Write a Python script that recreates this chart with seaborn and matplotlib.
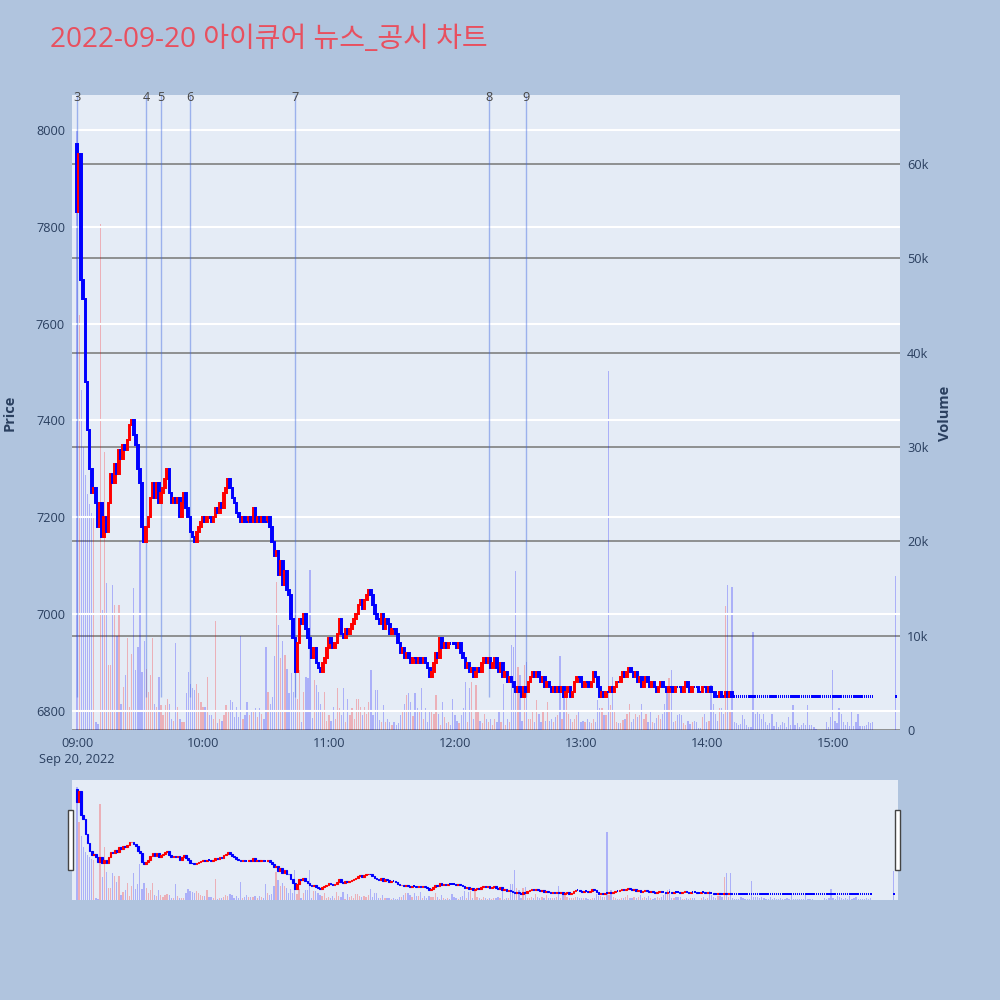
import numpy as np
import pandas as pd
import matplotlib
matplotlib.use('Agg')
import matplotlib.pyplot as plt
from matplotlib.patches import Rectangle
import seaborn as sns

# 제목과 데이터 (1분봉, 09:00 부터)
title = '2022-09-20 아이큐어 뉴스_공시 차트'
first_open = 7970

closes = [
    7830, 7950, 7690, 7650, 7480, 7380, 7300, 7250, 7260, 7230,
    7180, 7230, 7160, 7200, 7170, 7230, 7290, 7270, 7310, 7290,
    7340, 7320, 7350, 7340, 7360, 7390, 7400, 7370, 7350, 7300,
    7270, 7180, 7150, 7180, 7200, 7240, 7270, 7240, 7270, 7230,
    7250, 7260, 7280, 7300, 7250, 7230, 7240, 7230, 7240, 7200,
    7230, 7250, 7220, 7200, 7170, 7160, 7150, 7170, 7180, 7190,
    7200, 7190, 7200, 7200, 7190, 7200, 7220, 7210, 7230, 7220,
    7250, 7260, 7280, 7260, 7240, 7230, 7210, 7200, 7190, 7200,
    7190, 7190, 7200, 7190, 7220, 7190, 7200, 7190, 7200, 7190,
    7190, 7200, 7180, 7150, 7120, 7130, 7080, 7110, 7060, 7090,
    7050, 7040, 6990, 6950, 6880, 6940, 6990, 6980, 7000, 6970,
    6950, 6930, 6910, 6930, 6900, 6890, 6880, 6900, 6910, 6930,
    6950, 6940, 6930, 6940, 6960, 6990, 6960, 6950, 6970, 6960,
    6970, 6980, 6990, 7000, 7020, 7030, 7010, 7030, 7040, 7050,
    7040, 7020, 7000, 6990, 6980, 7000, 6970, 6990, 6980, 6960,
    6970, 6970, 6960, 6940, 6920, 6930, 6910, 6920, 6910, 6900,
    6910, 6910, 6900, 6910, 6900, 6910, 6900, 6890, 6870, 6880,
    6900, 6920, 6910, 6950, 6930, 6940, 6930, 6940, 6940, 6940,
    6940, 6930, 6940, 6920, 6910, 6890, 6900, 6880, 6890, 6870,
    6880, 6890, 6880, 6900, 6910, 6900, 6910, 6890, 6900, 6910,
    6890, 6880, 6900, 6870, 6880, 6860, 6870, 6860, 6850, 6840,
    6850, 6840, 6830, 6850, 6840, 6860, 6870, 6880, 6870, 6880,
    6870, 6860, 6870, 6850, 6860, 6850, 6840, 6850, 6840, 6850,
    6840, 6850, 6830, 6840, 6850, 6830, 6840, 6860, 6870, 6870,
    6860, 6850, 6860, 6860, 6850, 6860, 6880, 6870, 6850, 6830,
    6840, 6830, 6840, 6840, 6850, 6840, 6850, 6860, 6860, 6870,
    6880, 6870, 6880, 6890, 6880, 6870, 6880, 6860, 6870, 6850,
    6860, 6870, 6860, 6850, 6860, 6850, 6840, 6850, 6860, 6850,
    6850, 6840, 6850, 6850, 6840, 6850, 6850, 6850, 6840, 6850,
    6860, 6850, 6840, 6850, 6850, 6850, 6840, 6840, 6850, 6850,
    6840, 6850, 6840, 6840, 6830, 6830, 6840, 6830, 6830, 6840,
    6830, 6840, 6830,
] + [6830] * 67

volumes = [
    63500, 44000, 36000, 30000, 27000, 25000, 24000, 23000, 22500, 900,
    600, 53600, 12700, 29500, 15600, 6900, 6900, 15400, 13300, 10000,
    13300, 2800, 4600, 5800, 9700, 2400, 8100, 15100, 6400, 8800,
    20000, 6200, 9400, 6500, 4000, 5800, 9700, 2800, 2400, 5600,
    2600, 1600, 2600, 3300, 2800, 1200, 1000, 9200, 2400, 1200,
    900, 900, 3900, 6200, 4900, 4400, 4200, 4900, 3900, 3000,
    2400, 2400, 5600, 1600, 1600, 1200, 11500, 700, 1200, 1000,
    1600, 2600, 2100, 3200, 3000, 1400, 2400, 1400, 10000, 1200,
    1600, 3000, 1600, 1900, 1900, 2300, 1400, 2300, 1700, 1200,
    8800, 4000, 2800, 3500, 7800, 15700, 11100,
    7600, 9400, 8000, 6500, 3900, 6000, 4000, 17000, 3300, 6400,
    900, 4000, 5600, 5500, 17000, 1300, 5300, 4800, 4000, 2800,
    2100, 4000, 1000, 1600, 1000, 2400, 1200, 4400, 2300, 1600,
    4400, 800, 3300, 1600, 2300, 1200, 3300, 3300, 2400, 1600,
    2400, 1700, 3000, 6400, 1600, 4200, 4200, 1100, 900, 2600,
    900, 1200, 900, 500, 900, 500, 700, 1600, 1900, 2800,
    3700, 3900, 3000, 1500, 3900, 2300, 2100, 4400, 1200, 2300,
    900, 2100, 1900, 1700, 3700, 1700, 500, 3000, 1400, 700,
    900, 500, 3300, 1600, 1000, 700, 1600, 2300, 5100, 900,
    4400, 5100, 1200, 4800, 1900, 1000, 700, 1700, 1200, 800,
    1200, 500, 1200, 900, 1900, 900, 4900, 500, 1200, 900,
    9000, 8800, 16800, 6700, 5800, 1000, 6900, 7200, 1200, 1200,
    1900, 900, 3200, 1700, 900, 1900, 1000, 3000, 1000, 1200,
    900, 1400, 1600, 7800, 1200, 4600, 4600, 1700, 1200, 900,
    1200, 1600, 1900, 900, 1000, 900, 1200, 800, 700, 1200,
    900, 3200, 2300, 2300, 1600, 1600, 38000, 2600, 5600, 1900,
    900, 700, 700, 1100, 1200, 1700, 2800, 900, 1200, 1700,
    1400, 1600, 2800, 1200, 1700, 900, 2100, 900, 700, 1300,
    1600, 1200, 1700, 2800, 4400, 5500, 6400, 900, 1000, 1600,
    1700, 1600, 700, 500, 1000, 600, 900, 1000,
    900, 200, 200, 1400, 1700, 800, 1000, 4800, 2800, 1700,
    1000, 2300, 2300, 1700, 13100, 15400, 1900, 15200, 900, 700,
    500, 600, 1600, 1200, 500, 300, 300, 10400, 1700, 1900,
    1700, 1200, 1700, 900, 500, 700, 1700, 400, 900, 300,
    500, 900, 700, 300, 1400, 500, 2600, 500, 700, 300,
    500, 700, 500, 2600, 500, 500, 300, 100, 0, 0,
    0, 0, 900, 300, 1400, 6400, 1000, 700, 2300, 1700,
    900, 500, 900, 400, 2100, 400, 900, 1700, 400, 400,
    400, 500, 900, 700, 900,
]

# 동시호가 (15:30)
auction_time = '15:30'
auction_close = 6830
auction_volume = 16300

# 뉴스/공시 번호와 시각
news_labels = ['3', '4', '5', '6', '7', '8', '9']
news_times = ['09:00', '09:33', '09:40', '09:54', '10:44', '12:16', '12:34']
news_floor = 6830

hour_ticks = ['09:00', '10:00', '11:00', '12:00', '13:00', '14:00', '15:00']
price_ticks = [6800, 7000, 7200, 7400, 7600, 7800, 8000]
volume_ticks = [0, 10000, 20000, 30000, 40000, 50000, 60000]
volume_tick_labels = ['0', '10k', '20k', '30k', '40k', '50k', '60k']


def to_minute(hhmm):
    h, m = hhmm.split(':')
    return (int(h) - 9) * 60 + int(m)


def build_frame():
    df = pd.DataFrame({'close': closes, 'volume': volumes})
    df['minute'] = np.arange(len(df))
    last = pd.DataFrame({'close': [auction_close], 'volume': [auction_volume],
                         'minute': [to_minute(auction_time)]})
    df = pd.concat([df, last], ignore_index=True)
    df['open'] = df['close'].shift(1).fillna(first_open)
    return df


def draw_chart(ax_v, ax_p, df, flat_h, edge):
    up = (df['close'] > df['open']).values
    vol_colors = [(1, 0, 0, 0.25) if u else (0, 0, 1, 0.25) for u in up]
    ax_v.bar(df['minute'], df['volume'], width=0.6, color=vol_colors, linewidth=0)

    flat = (df['close'] == df['open']).values
    moving = df[~flat]
    colors = ['#FF0000' if c > o else '#0000FF'
              for o, c in zip(moving['open'], moving['close'])]
    low = np.minimum(moving['open'], moving['close'])
    ax_p.bar(moving['minute'], (moving['close'] - moving['open']).abs(), bottom=low,
             width=0.8, color=colors, edgecolor=colors, linewidth=edge, zorder=3)

    still = df[flat]
    ax_p.bar(still['minute'], flat_h, bottom=still['close'] - flat_h / 2,
             width=0.7, color='#0000FF', linewidth=0, zorder=3)


sns.set_theme(style='white', rc={'axes.facecolor': '#E5ECF6',
                                 'figure.facecolor': '#B0C4DE'})
plt.rcParams['font.family'] = ['Open Sans', 'Noto Sans CJK KR', 'DejaVu Sans']

df = build_frame()
text_color = '#2a3f5f'
xlim = (-2.4, 392)
price_lim = (6761, 8072)
vol_lim = (0, 67300)

fig = plt.figure(figsize=(10, 10), dpi=100)

# 메인 차트
ax_v = fig.add_axes([0.072, 0.27, 0.828, 0.635])
ax_p = ax_v.twinx()
draw_chart(ax_v, ax_p, df, flat_h=5, edge=1.4)

ax_v.set_xlim(*xlim)
ax_v.set_ylim(*vol_lim)
ax_p.set_ylim(*price_lim)

ax_v.yaxis.tick_right()
ax_v.set_yticks(volume_ticks)
ax_v.set_yticklabels(volume_tick_labels)
ax_v.grid(axis='y', color='#808080', linewidth=1.2)
ax_v.set_axisbelow(True)

ax_p.yaxis.tick_left()
ax_p.set_yticks(price_ticks)
ax_p.grid(axis='y', color='white', linewidth=1.5, zorder=1)
ax_p.set_axisbelow(True)

ax_v.set_xticks([to_minute(t) for t in hour_ticks])
ax_v.set_xticklabels([hour_ticks[0] + '\nSep 20, 2022'] + hour_ticks[1:], linespacing=1.3)

for a in (ax_v, ax_p):
    a.tick_params(length=0, labelsize=9.2, colors=text_color, pad=5)
    for s in a.spines.values():
        s.set_visible(False)

# 뉴스 세로선
news_x = [to_minute(t) for t in news_times]
ax_p.vlines(news_x, news_floor, price_lim[1], color='royalblue', alpha=0.45,
            linewidth=1, zorder=2)
for x, lab in zip(news_x, news_labels):
    ax_p.annotate(lab, xy=(x, 1), xycoords=('data', 'axes fraction'),
                  xytext=(0, -1.5), textcoords='offset points',
                  ha='center', va='center', fontsize=9.2, color='#444444',
                  annotation_clip=False)

fig.text(0.010, 0.587, 'Price', rotation=90, ha='center', va='center',
         fontsize=10.5, fontweight='bold', color=text_color)
fig.text(0.945, 0.587, 'Volume', rotation=90, ha='center', va='center',
         fontsize=10.5, fontweight='bold', color=text_color)
fig.text(0.05, 0.96, title, ha='left', va='center', fontsize=20.2, color='#E8505F')

# 레인지 슬라이더
ax_sv = fig.add_axes([0.072, 0.10, 0.826, 0.12])
ax_sp = ax_sv.twinx()
draw_chart(ax_sv, ax_sp, df, flat_h=24, edge=0.8)
ax_sv.set_xlim(*xlim)
ax_sv.set_ylim(*vol_lim)
ax_sp.set_ylim(*price_lim)
for a in (ax_sv, ax_sp):
    a.set_xticks([])
    a.set_yticks([])
    for s in a.spines.values():
        s.set_visible(False)

for hx in (0.068, 0.895):
    fig.patches.append(Rectangle((hx, 0.13), 0.005, 0.06, transform=fig.transFigure,
                                 facecolor='white', edgecolor='#444444', linewidth=1))

fig.savefig('out.png', dpi=100)
